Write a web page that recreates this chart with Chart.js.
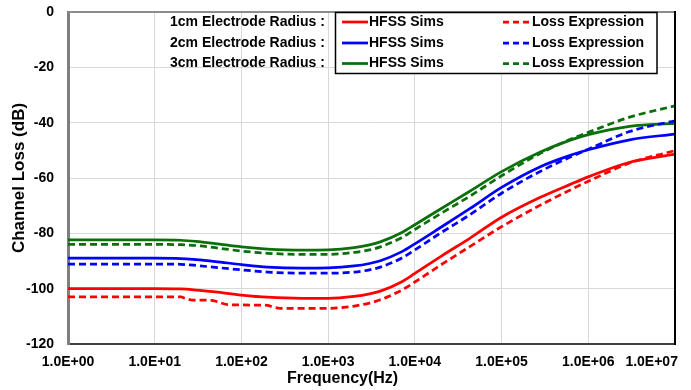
<!DOCTYPE html>
<html><head><meta charset="utf-8">
<script src="https://cdn.jsdelivr.net/npm/chart.js@4.4.1/dist/chart.umd.min.js"></script>
<style>html,body{margin:0;padding:0;background:#fff}#wrap{width:691px;height:390px}</style>
</head><body><div id="wrap"><canvas id="c" width="691" height="390"></canvas></div>
<script>
// ---- data ----
const freqHz = [1, 10, 20, 30, 50, 100, 200, 500, 1000, 2000, 3000, 4000, 7000, 1e4, 2e4, 4.3e4, 1e5, 2.8e5, 6.2e5, 1e6, 3e6, 1e7];
const hfss1cm = [-100, -100, -100.1, -100.5, -101.2, -102.3, -103.1, -103.5, -103.5, -102.8, -101.9, -100.9, -97.6, -94.5, -88.3, -81.8, -74.2, -67.0, -62.3, -59.6, -54.3, -51.4];
const hfss2cm = [-89, -89, -89.1, -89.5, -90.2, -91.3, -92.2, -92.6, -92.5, -91.8, -90.9, -89.9, -86.7, -83.8, -77.8, -71.1, -63.4, -55.9, -51.8, -49.8, -46.2, -44.1];
const hfss3cm = [-82.4, -82.4, -82.5, -82.9, -83.7, -84.9, -85.7, -86.1, -86.0, -85.2, -84.2, -83.1, -79.8, -76.9, -71.1, -64.8, -57.7, -50.6, -46.3, -44.3, -41.3, -40.3];
const loss2cm = [-91.1, -91.1, -91.2, -91.6, -92.3, -93.2, -94.0, -94.4, -94.4, -94.0, -93.2, -92.2, -89.0, -86.0, -79.8, -73.3, -65.5, -57.6, -52.4, -49.6, -43.2, -39.3];
const loss3cm = [-84, -84, -84.1, -84.4, -85.2, -86.4, -87.2, -87.6, -87.6, -86.9, -86.0, -84.9, -81.6, -78.6, -72.8, -66.6, -59.2, -51.1, -46.0, -43.5, -38.0, -33.9];
const lossFreqHz1cm = [1, 10, 20, 23, 27, 45, 55, 70, 100, 200, 230, 280, 500, 1000, 1500, 2000, 3000, 4000, 7000, 1e4, 2e4, 4.3e4, 1e5, 2.8e5, 6.2e5, 1e6, 3e6, 1e7];
const loss1cm = [-103, -103, -103, -103.6, -104.1, -104.2, -104.9, -105.8, -105.9, -106, -106.6, -107.1, -107.1, -107.1, -106.8, -106.3, -105.2, -104.0, -100.6, -97.6, -91.4, -84.8, -77.6, -69.8, -64.3, -61.2, -54.6, -50.1];
const xTickValues = [1, 10, 100, 1000, 1e4, 1e5, 1e6, 1e7];
const yMin = -120, yMax = 0, yStep = 20;
const radiusLabels = ['1cm Electrode Radius :', '2cm Electrode Radius :', '3cm Electrode Radius :'];
const seriesNames = ['HFSS Sims', 'Loss Expression'];

const FONT = '"Liberation Sans", Arial, sans-serif';
const RED = '#ff0000', BLUE = '#0000ff', GREEN = '#0b700b';

function pts(xs, ys) { return xs.map((x, i) => ({ x: x, y: ys[i] })); }
function ds(label, xs, ys, color, dashed) {
  return {
    label: label, data: pts(xs, ys), borderColor: color, backgroundColor: color,
    borderWidth: 2.75, borderDash: dashed ? [7, 4] : [], pointRadius: 0,
    cubicInterpolationMode: 'monotone', fill: false
  };
}

const frame = {
  id: 'frame',
  afterDatasetsDraw(chart) {
    const { ctx, chartArea: a } = chart;
    ctx.save();
    ctx.lineWidth = 2;
    ctx.strokeStyle = '#8c8c8c';
    ctx.beginPath(); ctx.moveTo(a.left, a.top); ctx.lineTo(a.right, a.top); ctx.stroke();
    ctx.strokeStyle = '#000';
    ctx.beginPath(); ctx.moveTo(a.right, a.top - 1); ctx.lineTo(a.right, a.bottom + 1); ctx.stroke();
    ctx.restore();
  }
};

const radiusLegend = {
  id: 'radiusLegend',
  afterDraw(chart) {
    const ctx = chart.ctx;
    const rows = [22, 43, 63.5];
    ctx.save();
    ctx.fillStyle = '#fff';
    ctx.fillRect(335, 12, 322, 62);
    ctx.strokeStyle = '#000'; ctx.lineWidth = 1.5;
    ctx.strokeRect(335.5, 12.5, 321.5, 61);
    ctx.font = 'bold 14px ' + FONT;
    ctx.textBaseline = 'middle';
    ctx.textAlign = 'left';
    radiusLabels.forEach((lbl, i) => {
      const y = rows[i];
      const solid = chart.data.datasets[2 * i], dashed = chart.data.datasets[2 * i + 1];
      ctx.fillStyle = '#000';
      ctx.fillText(lbl, 170, y);
      ctx.lineWidth = 2.75;
      ctx.setLineDash([]);
      ctx.strokeStyle = solid.borderColor;
      ctx.beginPath(); ctx.moveTo(342, y); ctx.lineTo(368, y); ctx.stroke();
      ctx.fillText(solid.label, 369, y);
      ctx.setLineDash([6, 4]);
      ctx.strokeStyle = dashed.borderColor;
      ctx.beginPath(); ctx.moveTo(503, y); ctx.lineTo(530, y); ctx.stroke();
      ctx.setLineDash([]);
      ctx.fillText(dashed.label, 532, y);
    });
    ctx.restore();
  }
};

new Chart(document.getElementById('c'), {
  type: 'line',
  data: {
    datasets: [
      ds(seriesNames[0], freqHz, hfss1cm, RED, false),
      ds(seriesNames[1], lossFreqHz1cm, loss1cm, RED, true),
      ds(seriesNames[0], freqHz, hfss2cm, BLUE, false),
      ds(seriesNames[1], freqHz, loss2cm, BLUE, true),
      ds(seriesNames[0], freqHz, hfss3cm, GREEN, false),
      ds(seriesNames[1], freqHz, loss3cm, GREEN, true)
    ]
  },
  options: {
    responsive: false, animation: false, devicePixelRatio: 1,
    layout: { padding: { top: 12, right: 16, left: 0, bottom: 0 } },
    plugins: { legend: { display: false }, tooltip: { enabled: false } },
    scales: {
      x: {
        type: 'logarithmic', min: xTickValues[0], max: xTickValues[xTickValues.length - 1],
        afterBuildTicks: (s) => { s.ticks = xTickValues.map(v => ({ value: v, major: true })); },
        afterFit: (s) => { s.height = 46; s.paddingRight = 0; s.paddingLeft = 0; },
        grid: { color: '#d9d9d9', lineWidth: 1, drawTicks: false },
        border: { display: true, color: '#404040', width: 2 },
        ticks: {
          color: '#000', font: { family: FONT, size: 14, weight: 'bold' }, padding: 10,
          maxRotation: 0, autoSkip: false,
          callback: (v) => {
            const e = Math.round(Math.log10(v));
            const s = '1.0E+' + String(e).padStart(2, '0');
            return v === xTickValues[xTickValues.length - 1] ? s + '            ' : s;
          }
        },
        title: {
          display: true, text: 'Frequency(Hz)' + '             ', color: '#000',
          font: { family: FONT, size: 16, weight: 'bold' }, padding: { top: 0, bottom: 2 }
        }
      },
      y: {
        min: yMin, max: yMax,
        afterFit: (s) => { s.width = 68; s.paddingTop = 0; s.paddingBottom = 0; },
        grid: { color: '#d9d9d9', lineWidth: 1, drawTicks: false },
        border: { display: true, color: '#7f7f7f', width: 3 },
        ticks: { stepSize: yStep, color: '#000', font: { family: FONT, size: 14, weight: 'bold' }, padding: 14 },
        title: {
          display: true, text: 'Channel Loss (dB)', color: '#000',
          font: { family: FONT, size: 17, weight: 'bold' }, padding: { top: 9, bottom: 0 }
        }
      }
    }
  },
  plugins: [frame, radiusLegend]
});
</script></body></html>
